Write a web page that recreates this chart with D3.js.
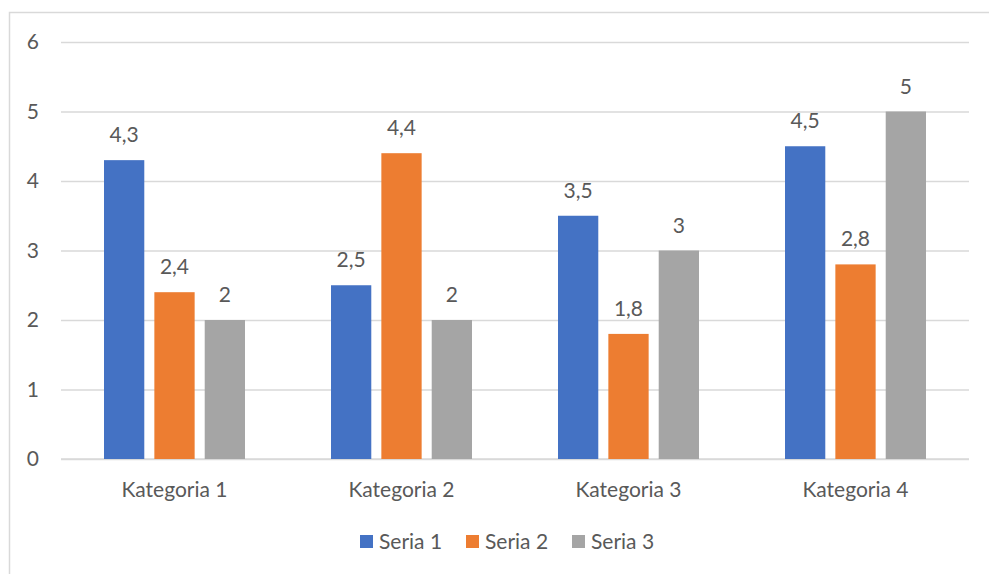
<!DOCTYPE html>
<html>
<head>
<meta charset="utf-8">
<script src="https://cdn.jsdelivr.net/npm/d3@7"></script>
<style>
  body { margin: 0; background: #fff; overflow: hidden; }
  svg { display: block; }
  text { font-family: Lato, "Open Sans", sans-serif; fill: #595959; }
</style>
</head>
<body>
<div id="chart"></div>
<script>
var width = 989
var height = 574

const categories = ["Kategoria 1", "Kategoria 2", "Kategoria 3", "Kategoria 4"];
const seriesNames = ["Seria 1", "Seria 2", "Seria 3"];
const seria1 = [4.3, 2.5, 3.5, 4.5];
const seria2 = [2.4, 4.4, 1.8, 2.8];
const seria3 = [2, 2, 3, 5];
const yTicks = [0, 1, 2, 3, 4, 5, 6];
const colors = ["#4472C4", "#ED7D31", "#A5A5A5"];
const fontSize = "21px";

var svg = d3.select("#chart").append("svg")
    .attr("width", width)
    .attr("height", height)

// chart area border (right/bottom edges fall outside the picture)
svg.append("path")
    .attr("d", `M9.5,${height} V12.5 H${width}`)
    .attr("fill", "none")
    .attr("stroke", "#D9D9D9")
    .attr("stroke-width", 1.5)

const margin = {top: 42, right: 20, bottom: 115, left: 61}
const innerWidth = width - margin.left - margin.right;
const innerHeight = height - margin.top - margin.bottom;

const table = categories.map((c, i) => ({
    cat: c,
    vals: [seria1[i], seria2[i], seria3[i]]
}));

const xScale = d3.scaleBand()
    .domain(categories)
    .range([0, innerWidth]);

const xInner = d3.scaleBand()
    .domain(d3.range(seriesNames.length))
    .range([43, 184])
    .paddingInner(0.2);

const yScale = d3.scaleLinear()
    .domain([0, 6])
    .range([innerHeight, 0]);

const g = svg.append("g")
    .attr("transform", `translate(${margin.left}, ${margin.top})`)

const yAxis = d3.axisLeft(yScale)
    .tickValues(yTicks)
    .tickSize(-innerWidth)
    .tickPadding(22)
    .tickFormat(d3.format("d"));

const yAxisG = g.append("g").call(yAxis);
yAxisG.select(".domain").remove();
yAxisG.selectAll("line").attr("stroke", "#D9D9D9").attr("stroke-width", 1.5);
yAxisG.selectAll("text")
    .style("font-size", fontSize)
    .style("font-family", "Lato, sans-serif")
    .attr("fill", "#595959");

const xAxis = d3.axisBottom(xScale).tickSize(0).tickPadding(23);
const xAxisG = g.append("g")
    .attr("transform", `translate(0, ${innerHeight})`)
    .call(xAxis);
xAxisG.select(".domain").remove();
xAxisG.selectAll("text")
    .style("font-size", fontSize)
    .style("font-family", "Lato, sans-serif")
    .attr("fill", "#595959");

// baseline
g.append("line")
    .attr("x1", 0).attr("x2", innerWidth)
    .attr("y1", yScale(0)).attr("y2", yScale(0))
    .attr("stroke", "#D9D9D9").attr("stroke-width", 1.5);

const catG = g.selectAll(".cat").data(table).enter().append("g")
    .attr("class", "cat")
    .attr("transform", d => `translate(${xScale(d.cat)},0)`);

catG.selectAll("rect").data(d => d.vals).enter().append("rect")
    .attr("x", (d, i) => xInner(i))
    .attr("width", xInner.bandwidth())
    .attr("y", d => yScale(d))
    .attr("height", d => innerHeight - yScale(d))
    .attr("fill", (d, i) => colors[i]);

const numFormat = v => String(v).replace(".", ",");

catG.selectAll(".lbl").data(d => d.vals).enter().append("text")
    .attr("class", "lbl")
    .attr("x", (d, i) => xInner(i) + xInner.bandwidth() / 2)
    .attr("y", d => yScale(d) - 18)
    .attr("text-anchor", "middle")
    .style("font-size", fontSize)
    .text(numFormat);

// legend
const legend = svg.append("g")
    .attr("transform", `translate(360, 535)`);
const legItem = legend.selectAll("g").data(seriesNames).enter().append("g")
    .attr("transform", (d, i) => `translate(${i * 106}, 0)`);
legItem.append("rect")
    .attr("width", 13).attr("height", 13)
    .attr("fill", (d, i) => colors[i]);
legItem.append("text")
    .attr("x", 19).attr("y", 14)
    .style("font-size", fontSize)
    .text(d => d);
</script>
</body>
</html>
